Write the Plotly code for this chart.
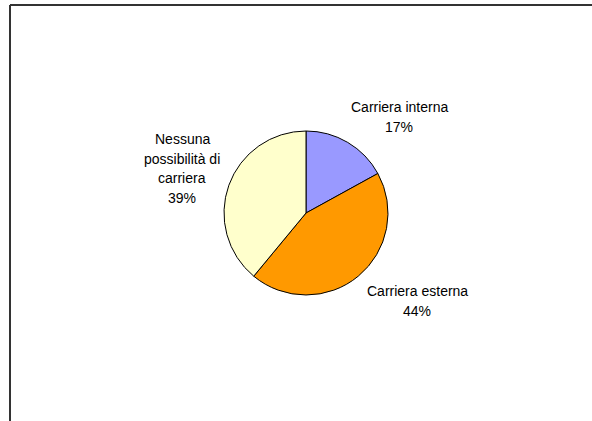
import plotly.graph_objects as go

categories = ["Carriera interna", "Carriera esterna", "Nessuna possibilità di carriera"]
values = [17, 44, 39]
label_lines = [["Carriera interna"], ["Carriera esterna"], ["Nessuna", "possibilità di", "carriera"]]
colors = ["#9999FF", "#FF9900", "#FFFFCC"]

W, H = 592, 421
cx, cy, r = 306, 213, 82

fig = go.Figure(go.Pie(
    labels=categories, values=values, sort=False, direction="clockwise", rotation=0,
    marker=dict(colors=colors, line=dict(color="#000000", width=1)),
    textinfo="none", hoverinfo="label+percent", showlegend=False,
    domain=dict(x=[(cx - r) / W, (cx + r) / W], y=[(H - cy - r) / H, (H - cy + r) / H]),
))

# label anchor positions (pixel centers of first line)
label_pos = [(399, 107), (417, 291), (182, 139)]
total = sum(values)
anns = []
for lines, v, (px, py) in zip(label_lines, values, label_pos):
    all_lines = lines + [f"{round(100 * v / total)}%"]
    for i, t in enumerate(all_lines):
        anns.append(dict(x=px / W, y=1 - (py + 19.5 * i) / H, xref="paper", yref="paper",
                         text=t, showarrow=False, xanchor="center", yanchor="middle",
                         font=dict(family="Liberation Sans, Arial", size=14, color="#000000")))

shapes = [
    dict(type="line", xref="paper", yref="paper", x0=10 / W, x1=10 / W, y0=0, y1=1 - 5 / H,
         line=dict(color="#333333", width=2)),
    dict(type="line", xref="paper", yref="paper", x0=10 / W, x1=1, y0=1 - 5 / H, y1=1 - 5 / H,
         line=dict(color="#333333", width=2)),
]

fig.update_layout(width=W, height=H, margin=dict(l=0, r=0, t=0, b=0),
                  paper_bgcolor="white", plot_bgcolor="white",
                  annotations=anns, shapes=shapes)
fig.write_html("out.html", config={"displayModeBar": False},
               post_script="document.body.style.margin='0';document.body.style.overflow='hidden';")
